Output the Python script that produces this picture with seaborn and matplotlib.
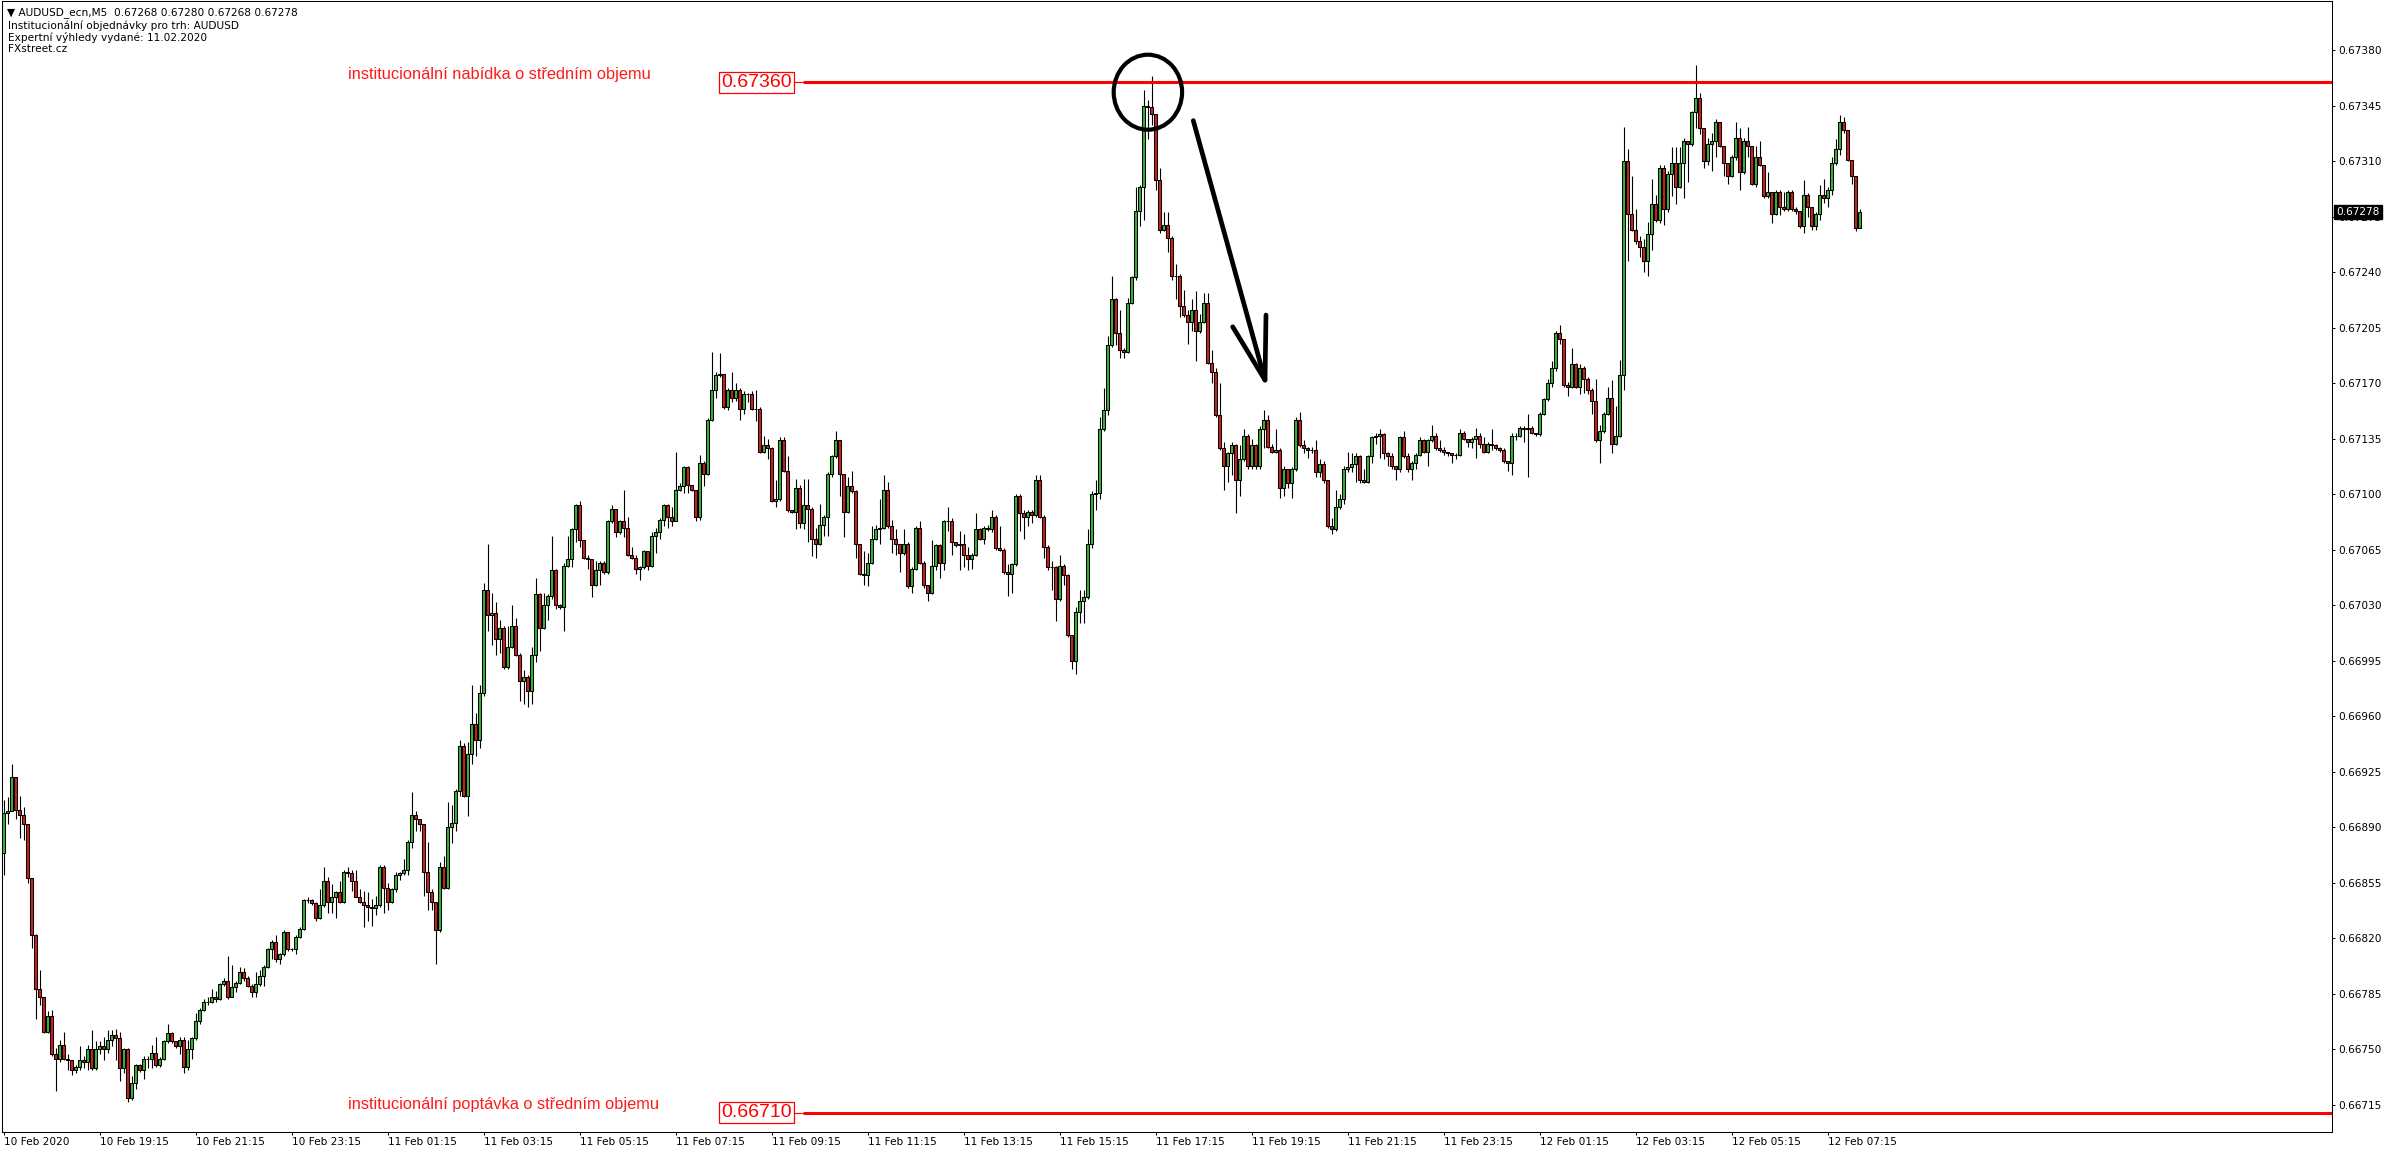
import numpy as np
import pandas as pd
import matplotlib
matplotlib.use('Agg')
import matplotlib.pyplot as plt
import seaborn as sns
from matplotlib.patches import Ellipse

sns.set_theme(style='white')
plt.rcParams['font.family'] = ['DejaVu Sans']

# AUDUSD M5 candles, prices in points (1e-5): 66899 -> 0.66899
# open of each bar = close of the previous one
first_open = 66874
close_pts = [
    66899, 66900, 66922, 66901, 66898, 66892, 66858, 66822, 66788, 66783,
    66761, 66771, 66747, 66744, 66753, 66744, 66743, 66737, 66739, 66743,
    66742, 66750, 66738, 66750, 66752, 66750, 66756, 66759, 66757, 66738,
    66750, 66719, 66729, 66740, 66737, 66744, 66744, 66748, 66740, 66744,
    66755, 66760, 66755, 66752, 66756, 66739, 66750, 66757, 66768, 66775,
    66780, 66780, 66783, 66782, 66791, 66793, 66783, 66789, 66792, 66799,
    66795, 66790, 66786, 66791, 66796, 66802, 66813, 66818, 66807, 66810,
    66824, 66813, 66813, 66821, 66826, 66844, 66844, 66842, 66833, 66841,
    66856, 66843, 66846, 66849, 66843, 66862, 66861, 66856, 66846, 66843,
    66841, 66840, 66839, 66841, 66865, 66852, 66843, 66851, 66860, 66861,
    66863, 66881, 66898, 66895, 66892, 66862, 66849, 66843, 66825, 66865,
    66852, 66890, 66893, 66913, 66941, 66910, 66936, 66955, 66945, 66975,
    67040, 67024, 67025, 67009, 67016, 66991, 67004, 67017, 66999, 66982,
    66985, 66976, 66999, 67037, 67016, 67030, 67036, 67052, 67030, 67029,
    67055, 67059, 67078, 67093, 67071, 67060, 67059, 67043, 67052, 67057,
    67051, 67083, 67091, 67076, 67083, 67079, 67062, 67060, 67053, 67054,
    67064, 67055, 67074, 67076, 67084, 67093, 67086, 67083, 67103, 67105,
    67117, 67106, 67103, 67086, 67120, 67113, 67147, 67166, 67175, 67176,
    67155, 67166, 67161, 67166, 67154, 67163, 67163, 67154, 67154, 67127,
    67131, 67129, 67096, 67097, 67134, 67115, 67090, 67089, 67104, 67082,
    67093, 67091, 67072, 67069, 67081, 67086, 67113, 67124, 67134, 67113,
    67089, 67105, 67102, 67069, 67050, 67049, 67057, 67072, 67078, 67079,
    67103, 67080, 67072, 67069, 67063, 67069, 67042, 67053, 67079, 67057,
    67043, 67038, 67055, 67068, 67057, 67083, 67083, 67070, 67068, 67069,
    67062, 67059, 67062, 67078, 67072, 67079, 67078, 67086, 67066, 67065,
    67051, 67050, 67056, 67099, 67088, 67086, 67089, 67087, 67109, 67086,
    67067, 67054, 67054, 67034, 67055, 67049, 67011, 66995, 67026, 67033,
    67035, 67069, 67100, 67101, 67141, 67153, 67194, 67223, 67202, 67191,
    67190, 67221, 67237, 67279, 67294, 67345, 67344, 67340, 67298, 67267,
    67270, 67262, 67238, 67238, 67219, 67213, 67209, 67216, 67203, 67209,
    67221, 67183, 67177, 67150, 67129, 67118, 67126, 67131, 67109, 67122,
    67137, 67118, 67131, 67118, 67141, 67147, 67130, 67127, 67128, 67104,
    67116, 67107, 67116, 67147, 67131, 67129, 67128, 67128, 67114, 67119,
    67109, 67080, 67078, 67092, 67097, 67116, 67117, 67119, 67124, 67109,
    67108, 67124, 67136, 67137, 67138, 67126, 67124, 67118, 67116, 67136,
    67124, 67116, 67120, 67125, 67134, 67127, 67134, 67137, 67129, 67128,
    67127, 67126, 67125, 67125, 67139, 67135, 67133, 67135, 67137, 67132,
    67127, 67132, 67131, 67129, 67128, 67121, 67120, 67137, 67137, 67142,
    67141, 67142, 67139, 67138, 67151, 67160, 67170, 67180, 67202, 67198,
    67169, 67168, 67182, 67168, 67180, 67173, 67166, 67159, 67134, 67140,
    67151, 67161, 67132, 67137, 67175, 67310, 67277, 67267, 67260, 67256,
    67247, 67264, 67283, 67273, 67306, 67280, 67302, 67309, 67294, 67309,
    67323, 67321, 67341, 67350, 67331, 67310, 67321, 67323, 67335, 67320,
    67309, 67301, 67313, 67325, 67303, 67323, 67320, 67296, 67313, 67308,
    67288, 67291, 67277, 67291, 67281, 67280, 67291, 67280, 67279, 67269,
    67289, 67281, 67269, 67277, 67289, 67287, 67292, 67309, 67318, 67335,
    67330, 67311, 67301, 67268, 67278,
]
high_pts = [
    66907, 66909, 66930, 66922, 66910, 66903, 66892, 66858, 66823, 66800,
    66783, 66774, 66775, 66751, 66756, 66761, 66747, 66743, 66740, 66752,
    66746, 66753, 66762, 66755, 66755, 66758, 66762, 66762, 66763, 66761,
    66751, 66751, 66733, 66741, 66741, 66746, 66746, 66753, 66758, 66745,
    66756, 66766, 66761, 66755, 66758, 66758, 66756, 66758, 66773, 66776,
    66782, 66783, 66788, 66787, 66792, 66795, 66809, 66803, 66793, 66802,
    66801, 66796, 66791, 66799, 66800, 66803, 66814, 66819, 66822, 66811,
    66825, 66824, 66814, 66822, 66827, 66845, 66846, 66845, 66843, 66851,
    66865, 66859, 66854, 66850, 66856, 66863, 66865, 66863, 66863, 66851,
    66850, 66849, 66845, 66847, 66866, 66866, 66855, 66852, 66862, 66862,
    66870, 66882, 66912, 66900, 66895, 66892, 66881, 66851, 66843, 66868,
    66872, 66906, 66904, 66914, 66945, 66943, 66944, 66980, 66962, 66980,
    67044, 67069, 67038, 67032, 67021, 67017, 67017, 67030, 67022, 67000,
    66989, 66986, 67004, 67047, 67038, 67038, 67037, 67074, 67053, 67031,
    67057, 67074, 67079, 67094, 67096, 67071, 67062, 67059, 67058, 67058,
    67058, 67084, 67093, 67091, 67084, 67103, 67086, 67067, 67062, 67055,
    67065, 67064, 67076, 67079, 67085, 67094, 67094, 67092, 67127, 67107,
    67118, 67118, 67106, 67103, 67125, 67121, 67148, 67190, 67177, 67189,
    67176, 67167, 67177, 67170, 67167, 67165, 67164, 67165, 67166, 67155,
    67137, 67135, 67130, 67109, 67136, 67136, 67124, 67090, 67110, 67106,
    67110, 67110, 67092, 67079, 67094, 67087, 67114, 67125, 67140, 67134,
    67113, 67111, 67115, 67103, 67069, 67064, 67063, 67080, 67081, 67097,
    67112, 67108, 67084, 67078, 67069, 67078, 67070, 67054, 67080, 67083,
    67058, 67043, 67071, 67069, 67069, 67084, 67092, 67085, 67070, 67077,
    67075, 67067, 67063, 67088, 67079, 67080, 67081, 67090, 67087, 67080,
    67066, 67056, 67057, 67100, 67100, 67090, 67090, 67090, 67112, 67112,
    67087, 67068, 67058, 67055, 67062, 67056, 67050, 67011, 67029, 67040,
    67040, 67078, 67102, 67109, 67149, 67167, 67200, 67238, 67224, 67216,
    67192, 67224, 67238, 67294, 67295, 67355, 67349, 67364, 67340, 67306,
    67278, 67278, 67263, 67245, 67239, 67229, 67216, 67223, 67228, 67214,
    67227, 67227, 67191, 67180, 67170, 67133, 67127, 67133, 67132, 67131,
    67141, 67138, 67135, 67132, 67143, 67153, 67150, 67132, 67141, 67129,
    67118, 67116, 67117, 67149, 67152, 67134, 67130, 67130, 67134, 67122,
    67121, 67109, 67085, 67103, 67100, 67118, 67127, 67126, 67126, 67125,
    67116, 67125, 67137, 67139, 67141, 67139, 67127, 67126, 67118, 67137,
    67140, 67126, 67121, 67126, 67136, 67135, 67135, 67144, 67139, 67134,
    67130, 67127, 67126, 67126, 67141, 67140, 67135, 67136, 67142, 67139,
    67136, 67133, 67141, 67132, 67130, 67129, 67121, 67139, 67139, 67143,
    67143, 67151, 67143, 67139, 67152, 67161, 67173, 67184, 67203, 67207,
    67198, 67171, 67192, 67183, 67182, 67181, 67174, 67167, 67173, 67144,
    67152, 67168, 67172, 67156, 67185, 67332, 67318, 67301, 67280, 67263,
    67261, 67272, 67299, 67289, 67308, 67308, 67304, 67319, 67319, 67319,
    67325, 67323, 67342, 67371, 67353, 67331, 67325, 67328, 67337, 67335,
    67320, 67309, 67314, 67335, 67331, 67325, 67332, 67320, 67320, 67323,
    67308, 67303, 67291, 67292, 67292, 67291, 67292, 67292, 67281, 67279,
    67298, 67290, 67281, 67278, 67295, 67299, 67294, 67313, 67324, 67339,
    67338, 67330, 67311, 67301, 67280,
]
low_pts = [
    66860, 66892, 66900, 66895, 66883, 66882, 66855, 66814, 66769, 66778,
    66760, 66760, 66746, 66724, 66742, 66743, 66737, 66734, 66735, 66737,
    66738, 66737, 66737, 66737, 66747, 66743, 66748, 66752, 66743, 66730,
    66735, 66717, 66718, 66725, 66736, 66731, 66738, 66738, 66739, 66739,
    66743, 66754, 66754, 66751, 66747, 66735, 66737, 66744, 66756, 66766,
    66774, 66778, 66779, 66780, 66781, 66790, 66782, 66783, 66786, 66791,
    66793, 66789, 66783, 66783, 66790, 66790, 66801, 66807, 66805, 66804,
    66809, 66812, 66812, 66810, 66820, 66825, 66842, 66841, 66831, 66832,
    66840, 66836, 66836, 66833, 66842, 66842, 66859, 66850, 66846, 66842,
    66827, 66831, 66828, 66835, 66840, 66836, 66838, 66842, 66849, 66857,
    66860, 66860, 66877, 66888, 66888, 66847, 66838, 66838, 66804, 66824,
    66851, 66851, 66880, 66888, 66910, 66909, 66897, 66930, 66935, 66940,
    66973, 67014, 67005, 66999, 67000, 66990, 66990, 67003, 66998, 66970,
    66968, 66966, 66968, 66994, 67001, 67015, 67021, 67034, 67028, 67028,
    67014, 67054, 67054, 67070, 67067, 67059, 67053, 67035, 67042, 67043,
    67050, 67050, 67082, 67073, 67075, 67073, 67061, 67059, 67050, 67046,
    67053, 67052, 67054, 67063, 67072, 67080, 67079, 67080, 67083, 67102,
    67101, 67101, 67102, 67083, 67084, 67105, 67112, 67146, 67161, 67174,
    67154, 67153, 67158, 67159, 67147, 67151, 67158, 67153, 67146, 67126,
    67126, 67122, 67095, 67092, 67096, 67114, 67089, 67088, 67078, 67079,
    67078, 67070, 67061, 67060, 67068, 67074, 67074, 67111, 67123, 67099,
    67073, 67088, 67101, 67060, 67049, 67043, 67042, 67056, 67071, 67069,
    67078, 67079, 67063, 67062, 67051, 67062, 67041, 67038, 67052, 67056,
    67041, 67033, 67037, 67052, 67047, 67052, 67077, 67062, 67067, 67052,
    67054, 67052, 67053, 67061, 67071, 67069, 67077, 67076, 67065, 67064,
    67050, 67036, 67038, 67055, 67077, 67072, 67080, 67082, 67086, 67085,
    67060, 67052, 67040, 67020, 67033, 67043, 67010, 66990, 66987, 67019,
    67019, 67034, 67066, 67090, 67097, 67140, 67150, 67193, 67194, 67186,
    67186, 67189, 67220, 67235, 67269, 67273, 67324, 67333, 67292, 67265,
    67266, 67253, 67235, 67223, 67212, 67212, 67195, 67203, 67184, 67202,
    67208, 67182, 67170, 67149, 67128, 67103, 67108, 67112, 67088, 67099,
    67121, 67116, 67116, 67116, 67116, 67129, 67129, 67126, 67126, 67098,
    67099, 67104, 67098, 67115, 67130, 67126, 67123, 67126, 67111, 67111,
    67107, 67079, 67075, 67077, 67091, 67094, 67114, 67114, 67108, 67107,
    67107, 67107, 67120, 67132, 67123, 67122, 67118, 67116, 67109, 67114,
    67123, 67114, 67109, 67116, 67124, 67126, 67118, 67133, 67128, 67127,
    67125, 67124, 67120, 67122, 67124, 67134, 67130, 67129, 67123, 67129,
    67126, 67126, 67128, 67128, 67127, 67120, 67115, 67112, 67134, 67136,
    67133, 67111, 67138, 67137, 67137, 67150, 67159, 67168, 67178, 67195,
    67168, 67162, 67167, 67167, 67163, 67164, 67163, 67151, 67133, 67120,
    67139, 67150, 67126, 67131, 67136, 67166, 67247, 67266, 67258, 67250,
    67240, 67238, 67254, 67272, 67271, 67270, 67278, 67288, 67283, 67293,
    67287, 67297, 67320, 67331, 67327, 67306, 67308, 67304, 67313, 67319,
    67301, 67296, 67300, 67311, 67292, 67302, 67313, 67295, 67294, 67307,
    67287, 67287, 67271, 67276, 67276, 67279, 67279, 67279, 67277, 67268,
    67265, 67275, 67267, 67267, 67273, 67284, 67281, 67289, 67308, 67314,
    67328, 67310, 67296, 67266, 67268,
]

time_labels = ['10 Feb 2020', '10 Feb 19:15', '10 Feb 21:15', '10 Feb 23:15',
               '11 Feb 01:15', '11 Feb 03:15', '11 Feb 05:15', '11 Feb 07:15',
               '11 Feb 09:15', '11 Feb 11:15', '11 Feb 13:15', '11 Feb 15:15',
               '11 Feb 17:15', '11 Feb 19:15', '11 Feb 21:15', '11 Feb 23:15',
               '12 Feb 01:15', '12 Feb 03:15', '12 Feb 05:15', '12 Feb 07:15']
bars_per_label = 24  # one label every 2 hours of M5 bars

header_lines = ['\u25bc AUDUSD_ecn,M5  0.67268 0.67280 0.67268 0.67278',
                'Institucion\u00e1ln\u00ed objedn\u00e1vky pro trh: AUDUSD',
                'Expertn\u00ed v\u00fdhledy vydan\u00e9: 11.02.2020',
                'FXstreet.cz']

supply_level = 0.67360
demand_level = 0.66710
supply_text = 'institucion\u00e1ln\u00ed nab\u00eddka o st\u0159edn\u00edm objemu'
demand_text = 'institucion\u00e1ln\u00ed popt\u00e1vka o st\u0159edn\u00edm objemu'

df = pd.DataFrame({'close': np.array(close_pts) / 1e5,
                   'high': np.array(high_pts) / 1e5,
                   'low': np.array(low_pts) / 1e5})
df['open'] = df['close'].shift(1).fillna(first_open / 1e5)
df['bar'] = np.arange(len(df))
df['high'] = np.maximum(df['high'], df[['open', 'close']].max(axis=1))
df['low'] = np.minimum(df['low'], df[['open', 'close']].min(axis=1))
df['up'] = df['close'] >= df['open']

green = '#33b533'
red = '#d41c1c'

W, H = 2396, 1154
fig = plt.figure(figsize=(W / 100, H / 100), dpi=100)
fig.patch.set_facecolor('white')
ax = fig.add_axes([2.3 / W, 1 - 1131.5 / H, (2331.5 - 2.3) / W, 1130.5 / H])
ax.set_facecolor('white')

# wicks then bodies
ax.vlines(df['bar'], df['low'], df['high'], color='black', lw=0.8, zorder=2)
body_bottom = df[['open', 'close']].min(axis=1)
body_height = (df['close'] - df['open']).abs()
ax.bar(df['bar'], body_height, bottom=body_bottom, width=0.6,
       color=np.where(df['up'], green, red), edgecolor='black',
       linewidth=0.75, zorder=3)

ax.set_xlim(-0.3, 582)
ax.set_ylim(0.6669818, 0.6741116)

# price axis on the right
yticks = np.round(np.arange(0.66715, 0.673801, 0.00035), 5)
ax.yaxis.tick_right()
ax.set_yticks(yticks)
ax.set_yticklabels([f'{v:.5f}' for v in yticks])
ax.tick_params(axis='y', direction='out', length=2.5, width=0.7, pad=2.5,
               labelsize=7.6, colors='black', right=True, left=False)

xt = np.arange(0, len(df), bars_per_label)[:len(time_labels)]
ax.set_xticks(xt)
ax.set_xticklabels(time_labels, ha='left')
ax.tick_params(axis='x', direction='out', length=2.5, width=0.7, pad=1.5,
               labelsize=7.6, colors='black', bottom=True)
for lab in ax.get_xticklabels():
    lab.set_x(0)
for s in ax.spines.values():
    s.set_color('black')
    s.set_linewidth(0.75)
ax.grid(False)

# institutional levels
for level, txt in [(supply_level, supply_text), (demand_level, demand_text)]:
    ax.hlines(level, 199.9, 582, color='#ff0000', lw=2.2, zorder=4)
    ax.hlines(level, 197.6, 199.9, color='#ff0000', lw=0.8, zorder=4)
    ax.annotate(f'{level:.5f}', xy=(188.25, level), ha='center', va='center',
                fontsize=14, color='#ff0000', family=['Liberation Sans', 'DejaVu Sans'],
                bbox=dict(boxstyle='square,pad=0.1', fc='white', ec='#ff0000', lw=0.9),
                zorder=5)
    ax.annotate(txt, xy=(86.0, level), xytext=(0, 2.6), textcoords='offset points',
                ha='left', va='baseline', fontsize=11.8, color='#ff1a1a',
                family=['Liberation Sans', 'DejaVu Sans'], zorder=5)

# hand drawn circle and arrow
ax.add_patch(Ellipse((286.1, 0.6735364), 17.1, 0.000473, fill=False,
                     ec='black', lw=3.0, zorder=6))
ax.plot([297.45, 315.375], [0.673357, 0.671721], color='black', lw=3.4,
        solid_capstyle='round', zorder=6)
ax.plot([315.625, 315.375, 307.3], [0.672131, 0.671721, 0.672057], color='black',
        lw=3.4, solid_capstyle='round', solid_joinstyle='round', zorder=6)

# current price tag
last = df['close'].iloc[-1]
ax.annotate(f'{last:.5f}', xy=(1, last), xycoords=('axes fraction', 'data'),
            xytext=(3.2, 0), textcoords='offset points', ha='left', va='center',
            fontsize=7.6, color='white', annotation_clip=False, zorder=10,
            bbox=dict(boxstyle='square,pad=0.22', fc='black', ec='black'))

# header text
ys = [12.7, 26.0, 37.7, 49.3]
for i, (line, y) in enumerate(zip(header_lines, ys)):
    fig.text((6.7 if i == 0 else 8.0) / W, 1 - y / H, line, fontsize=7.6,
             color='black', va='center', ha='left')

fig.savefig('out.png', dpi=100, facecolor='white')
